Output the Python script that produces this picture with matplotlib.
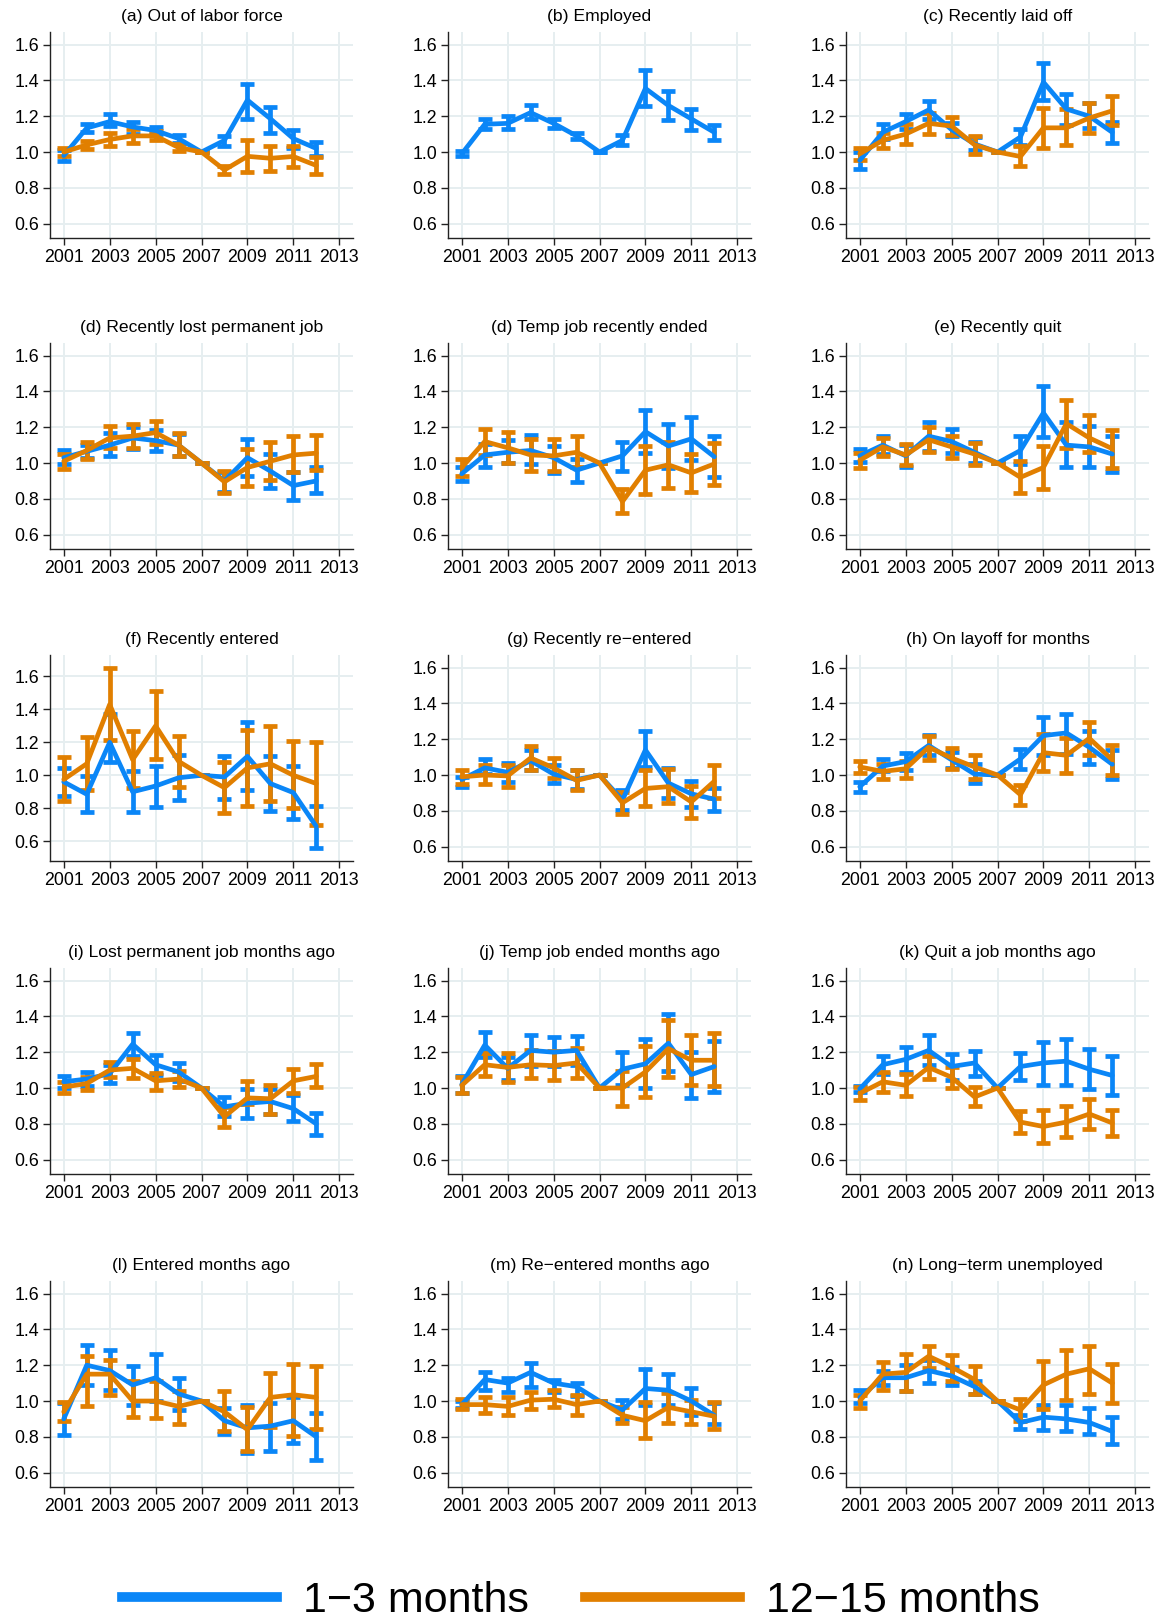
import numpy as np
import matplotlib
matplotlib.use("Agg")
import matplotlib.pyplot as plt
from matplotlib.lines import Line2D

plt.rcParams['font.family'] = ['Liberation Sans', 'DejaVu Sans']

years = list(range(2001, 2013))
BLUE = '#0a86f7'
ORANGE = '#e17f00'

# (a) Out of labor force
a_s = [0.98, 1.134, 1.17, 1.14, 1.12, 1.075, 1.0, 1.065, 1.29, 1.186, 1.075, 1.02]
a_s_lo = [0.95, 1.11, 1.143, 1.10, 1.10, 1.05, 1.0, 1.034, 1.186, 1.106, 1.022, 0.98]
a_s_hi = [1.01, 1.155, 1.21, 1.17, 1.14, 1.097, 1.0, 1.09, 1.378, 1.25, 1.125, 1.056]
a_l = [1.0, 1.04, 1.07, 1.09, 1.09, 1.025, 1.0, 0.90, 0.976, 0.965, 0.975, 0.925]
a_l_lo = [0.98, 1.015, 1.034, 1.052, 1.065, 1.006, 1.0, 0.879, 0.888, 0.894, 0.916, 0.879]
a_l_hi = [1.02, 1.06, 1.108, 1.127, 1.115, 1.047, 1.0, 0.92, 1.069, 1.034, 1.034, 0.972]

# (b) Employed
b_s = [0.99, 1.155, 1.16, 1.22, 1.16, 1.09, 1.0, 1.065, 1.355, 1.26, 1.185, 1.11]
b_s_lo = [0.975, 1.13, 1.127, 1.186, 1.134, 1.07, 1.0, 1.037, 1.255, 1.177, 1.125, 1.065]
b_s_hi = [1.005, 1.184, 1.20, 1.26, 1.184, 1.106, 1.0, 1.097, 1.46, 1.34, 1.242, 1.15]

# (c) Recently laid off
c_s = [0.953, 1.11, 1.17, 1.235, 1.125, 1.045, 1.0, 1.084, 1.39, 1.24, 1.20, 1.11]
c_s_lo = [0.907, 1.07, 1.13, 1.186, 1.088, 1.01, 1.0, 1.04, 1.289, 1.149, 1.134, 1.05]
c_s_hi = [1.0, 1.158, 1.214, 1.285, 1.162, 1.084, 1.0, 1.13, 1.497, 1.326, 1.274, 1.168]
c_l = [0.99, 1.065, 1.10, 1.16, 1.145, 1.04, 1.0, 0.975, 1.135, 1.135, 1.19, 1.23]
c_l_lo = [0.957, 1.024, 1.043, 1.102, 1.093, 0.987, 1.0, 0.922, 1.022, 1.037, 1.106, 1.149]
c_l_hi = [1.022, 1.106, 1.158, 1.218, 1.196, 1.088, 1.0, 1.035, 1.246, 1.238, 1.276, 1.311]

# (d) Recently lost permanent job
d_s = [1.03, 1.065, 1.10, 1.14, 1.125, 1.10, 1.0, 0.90, 1.03, 0.955, 0.874, 0.90]
d_s_lo = [0.994, 1.03, 1.04, 1.078, 1.065, 1.04, 1.0, 0.836, 0.93, 0.86, 0.795, 0.833]
d_s_hi = [1.072, 1.10, 1.165, 1.20, 1.184, 1.16, 1.0, 0.95, 1.134, 1.05, 0.95, 0.976]
d_l = [1.01, 1.07, 1.14, 1.15, 1.17, 1.10, 1.0, 0.895, 0.975, 1.01, 1.045, 1.055]
d_l_lo = [0.967, 1.022, 1.082, 1.082, 1.106, 1.037, 1.0, 0.833, 0.874, 0.905, 0.952, 0.963]
d_l_hi = [1.05, 1.12, 1.204, 1.22, 1.236, 1.165, 1.0, 0.957, 1.078, 1.12, 1.149, 1.156]

# (d) Temp job recently ended
t_s = [0.94, 1.045, 1.06, 1.07, 1.03, 0.96, 1.0, 1.04, 1.175, 1.095, 1.135, 1.035]
t_s_lo = [0.90, 0.98, 0.998, 0.994, 0.942, 0.896, 1.0, 0.957, 1.056, 0.97, 1.019, 0.92]
t_s_hi = [0.976, 1.106, 1.128, 1.158, 1.093, 1.022, 1.0, 1.12, 1.297, 1.22, 1.255, 1.152]
t_l = [0.975, 1.12, 1.085, 1.045, 1.04, 1.06, 1.0, 0.785, 0.96, 0.99, 0.945, 0.995]
t_l_lo = [0.93, 1.046, 1.0, 0.954, 0.954, 0.976, 1.0, 0.72, 0.827, 0.86, 0.836, 0.877]
t_l_hi = [1.022, 1.19, 1.171, 1.134, 1.134, 1.149, 1.0, 0.855, 1.097, 1.12, 1.05, 1.11]

# (e) Recently quit
e_s = [1.04, 1.10, 1.04, 1.15, 1.12, 1.06, 1.0, 1.07, 1.28, 1.10, 1.09, 1.05]
e_s_lo = [1.007, 1.05, 0.976, 1.069, 1.054, 1.0, 1.0, 0.994, 1.147, 0.976, 0.976, 0.948]
e_s_hi = [1.078, 1.149, 1.10, 1.227, 1.19, 1.119, 1.0, 1.152, 1.428, 1.227, 1.208, 1.152]
e_l = [1.015, 1.09, 1.045, 1.13, 1.09, 1.05, 1.0, 0.92, 0.975, 1.22, 1.14, 1.08]
e_l_lo = [0.972, 1.041, 0.989, 1.06, 1.028, 0.991, 1.0, 0.833, 0.855, 1.082, 1.063, 0.972]
e_l_hi = [1.056, 1.14, 1.106, 1.199, 1.149, 1.11, 1.0, 1.013, 1.097, 1.353, 1.268, 1.186]

# (f) Recently entered
f_s = [0.96, 0.885, 1.20, 0.90, 0.935, 0.985, 1.0, 0.99, 1.115, 0.95, 0.895, 0.69]
f_s_lo = [0.873, 0.776, 1.079, 0.778, 0.808, 0.853, 1.0, 0.857, 0.913, 0.782, 0.737, 0.56]
f_s_hi = [1.044, 0.994, 1.374, 1.024, 1.059, 1.125, 1.0, 1.119, 1.321, 1.119, 1.055, 0.816]
f_l = [0.975, 1.07, 1.43, 1.095, 1.30, 1.085, 1.0, 0.925, 1.045, 1.07, 1.0, 0.95]
f_l_lo = [0.842, 0.913, 1.212, 0.923, 1.099, 0.929, 1.0, 0.772, 0.812, 0.842, 0.802, 0.70]
f_l_hi = [1.109, 1.23, 1.65, 1.267, 1.509, 1.24, 1.0, 1.079, 1.277, 1.30, 1.206, 1.20]

# (g) Recently re-entered
g_s = [0.975, 1.04, 1.015, 1.08, 1.005, 0.975, 1.0, 0.86, 1.14, 0.955, 0.895, 0.865]
g_s_lo = [0.933, 1.007, 0.961, 1.026, 0.956, 0.924, 1.0, 0.804, 1.044, 0.872, 0.822, 0.798]
g_s_hi = [0.99, 1.09, 1.069, 1.141, 1.057, 1.026, 1.0, 0.915, 1.248, 1.039, 0.967, 0.928]
g_l = [0.99, 1.0, 0.995, 1.095, 1.04, 0.97, 1.0, 0.845, 0.925, 0.935, 0.85, 0.965]
g_l_lo = [0.952, 0.952, 0.933, 1.026, 0.983, 0.915, 1.0, 0.785, 0.828, 0.841, 0.761, 0.872]
g_l_hi = [1.026, 1.054, 1.057, 1.161, 1.094, 1.026, 1.0, 0.906, 1.03, 1.035, 0.939, 1.057]

# (h) On layoff for months
h_s = [0.935, 1.05, 1.075, 1.165, 1.085, 1.005, 1.0, 1.09, 1.22, 1.235, 1.155, 1.06]
h_s_lo = [0.906, 1.02, 1.026, 1.109, 1.041, 0.957, 1.0, 1.031, 1.113, 1.12, 1.063, 0.98]
h_s_hi = [0.961, 1.09, 1.124, 1.224, 1.131, 1.059, 1.0, 1.146, 1.322, 1.341, 1.243, 1.137]
h_l = [1.045, 1.02, 1.035, 1.155, 1.095, 1.045, 1.0, 0.89, 1.125, 1.11, 1.205, 1.085]
h_l_lo = [1.013, 0.98, 0.985, 1.085, 1.035, 0.98, 1.0, 0.835, 1.02, 1.013, 1.109, 1.002]
h_l_hi = [1.081, 1.059, 1.081, 1.22, 1.152, 1.109, 1.0, 0.943, 1.23, 1.206, 1.298, 1.169]

# (i) Lost permanent job months ago
i_s = [1.035, 1.05, 1.08, 1.245, 1.13, 1.09, 1.0, 0.895, 0.915, 0.925, 0.885, 0.80]
i_s_lo = [1.0, 1.01, 1.028, 1.18, 1.075, 1.04, 1.0, 0.845, 0.831, 0.855, 0.814, 0.738]
i_s_hi = [1.069, 1.091, 1.13, 1.307, 1.184, 1.138, 1.0, 0.948, 0.994, 0.994, 0.96, 0.86]
i_l = [1.005, 1.025, 1.10, 1.11, 1.04, 1.05, 1.0, 0.84, 0.945, 0.94, 1.04, 1.065]
i_l_lo = [0.972, 0.991, 1.063, 1.054, 0.989, 1.004, 1.0, 0.784, 0.911, 0.855, 0.97, 1.004]
i_l_hi = [1.035, 1.059, 1.143, 1.162, 1.082, 1.093, 1.0, 0.892, 1.041, 1.017, 1.106, 1.134]

# (j) Temp job ended months ago
j_s = [1.02, 1.24, 1.11, 1.21, 1.20, 1.21, 1.0, 1.105, 1.135, 1.25, 1.075, 1.12]
j_s_lo = [0.97, 1.171, 1.046, 1.121, 1.121, 1.128, 1.0, 1.019, 1.0, 1.097, 0.944, 0.976]
j_s_hi = [1.069, 1.314, 1.171, 1.297, 1.283, 1.292, 1.0, 1.199, 1.273, 1.413, 1.203, 1.264]
j_l = [1.015, 1.13, 1.115, 1.13, 1.125, 1.14, 1.0, 1.0, 1.09, 1.22, 1.155, 1.155]
j_l_lo = [0.97, 1.069, 1.035, 1.054, 1.046, 1.054, 1.0, 0.901, 0.948, 1.063, 1.019, 1.009]
j_l_hi = [1.063, 1.195, 1.195, 1.212, 1.204, 1.223, 1.0, 1.097, 1.232, 1.379, 1.297, 1.305]

# (k) Quit a job months ago
k_s = [0.995, 1.13, 1.16, 1.21, 1.12, 1.14, 1.0, 1.12, 1.14, 1.15, 1.105, 1.07]
k_s_lo = [0.975, 1.078, 1.091, 1.13, 1.046, 1.069, 1.0, 1.046, 1.019, 1.019, 0.994, 0.961]
k_s_hi = [1.013, 1.18, 1.227, 1.297, 1.19, 1.208, 1.0, 1.195, 1.255, 1.273, 1.217, 1.177]
k_l = [0.97, 1.035, 1.015, 1.115, 1.06, 0.95, 1.0, 0.81, 0.785, 0.81, 0.855, 0.805]
k_l_lo = [0.933, 0.98, 0.954, 1.05, 0.998, 0.898, 1.0, 0.749, 0.691, 0.725, 0.771, 0.734]
k_l_hi = [1.004, 1.087, 1.078, 1.18, 1.119, 1.004, 1.0, 0.87, 0.879, 0.898, 0.939, 0.879]

# (l) Entered months ago
l_s = [0.90, 1.20, 1.17, 1.09, 1.13, 1.04, 1.0, 0.89, 0.85, 0.86, 0.89, 0.80]
l_s_lo = [0.81, 1.09, 1.06, 0.977, 1.0, 0.949, 1.0, 0.817, 0.709, 0.72, 0.766, 0.669]
l_s_hi = [0.99, 1.314, 1.286, 1.194, 1.263, 1.126, 1.0, 0.96, 0.977, 0.99, 1.02, 0.931]
l_l = [0.94, 1.15, 1.15, 1.0, 1.0, 0.97, 1.0, 0.94, 0.84, 1.02, 1.035, 1.02]
l_l_lo = [0.886, 0.97, 1.034, 0.909, 0.903, 0.874, 1.0, 0.834, 0.72, 0.857, 0.806, 0.846]
l_l_hi = [0.994, 1.25, 1.229, 1.109, 1.114, 1.057, 1.0, 1.057, 0.966, 1.154, 1.206, 1.194]

# (m) Re-entered months ago
m_s = [0.98, 1.12, 1.10, 1.16, 1.10, 1.08, 1.0, 0.95, 1.07, 1.06, 1.0, 0.92]
m_s_lo = [0.96, 1.063, 1.05, 1.08, 1.05, 1.03, 1.0, 0.90, 0.977, 0.98, 0.92, 0.874]
m_s_hi = [1.0, 1.16, 1.131, 1.211, 1.12, 1.10, 1.0, 1.006, 1.177, 1.149, 1.074, 0.99]
m_l = [0.98, 0.98, 0.97, 1.005, 1.01, 0.98, 1.0, 0.92, 0.89, 0.965, 0.94, 0.915]
m_l_lo = [0.954, 0.931, 0.92, 0.954, 0.966, 0.92, 1.0, 0.88, 0.794, 0.88, 0.874, 0.846]
m_l_hi = [1.01, 1.023, 1.023, 1.05, 1.063, 1.034, 1.0, 0.966, 0.994, 1.046, 1.006, 0.994]

# (n) Long-term unemployed
n_s = [1.02, 1.13, 1.13, 1.17, 1.14, 1.08, 1.0, 0.88, 0.91, 0.90, 0.88, 0.83]
n_s_lo = [0.99, 1.09, 1.057, 1.103, 1.09, 1.04, 1.0, 0.846, 0.84, 0.834, 0.817, 0.76]
n_s_hi = [1.063, 1.17, 1.20, 1.23, 1.19, 1.114, 1.0, 0.92, 0.977, 0.977, 0.96, 0.909]
n_l = [1.0, 1.15, 1.16, 1.25, 1.19, 1.12, 1.0, 0.95, 1.09, 1.15, 1.18, 1.10]
n_l_lo = [0.96, 1.063, 1.057, 1.183, 1.114, 1.04, 1.0, 0.89, 0.954, 1.006, 1.04, 0.989]
n_l_hi = [1.034, 1.22, 1.263, 1.309, 1.257, 1.194, 1.0, 1.011, 1.223, 1.286, 1.309, 1.206]

panels = [
    ("(a) Out of labor force", (a_s, a_s_lo, a_s_hi), (a_l, a_l_lo, a_l_hi)),
    ("(b) Employed", (b_s, b_s_lo, b_s_hi), None),
    ("(c) Recently laid off", (c_s, c_s_lo, c_s_hi), (c_l, c_l_lo, c_l_hi)),
    ("(d) Recently lost permanent job", (d_s, d_s_lo, d_s_hi), (d_l, d_l_lo, d_l_hi)),
    ("(d) Temp job recently ended", (t_s, t_s_lo, t_s_hi), (t_l, t_l_lo, t_l_hi)),
    ("(e) Recently quit", (e_s, e_s_lo, e_s_hi), (e_l, e_l_lo, e_l_hi)),
    ("(f) Recently entered", (f_s, f_s_lo, f_s_hi), (f_l, f_l_lo, f_l_hi)),
    ("(g) Recently re\u2212entered", (g_s, g_s_lo, g_s_hi), (g_l, g_l_lo, g_l_hi)),
    ("(h) On layoff for months", (h_s, h_s_lo, h_s_hi), (h_l, h_l_lo, h_l_hi)),
    ("(i) Lost permanent job months ago", (i_s, i_s_lo, i_s_hi), (i_l, i_l_lo, i_l_hi)),
    ("(j) Temp job ended months ago", (j_s, j_s_lo, j_s_hi), (j_l, j_l_lo, j_l_hi)),
    ("(k) Quit a job months ago", (k_s, k_s_lo, k_s_hi), (k_l, k_l_lo, k_l_hi)),
    ("(l) Entered months ago", (l_s, l_s_lo, l_s_hi), (l_l, l_l_lo, l_l_hi)),
    ("(m) Re\u2212entered months ago", (m_s, m_s_lo, m_s_hi), (m_l, m_l_lo, m_l_hi)),
    ("(n) Long\u2212term unemployed", (n_s, n_s_lo, n_s_hi), (n_l, n_l_lo, n_l_hi)),
]

W, H = 1162, 1621
fig = plt.figure(figsize=(W / 100, H / 100), dpi=100)

col_left = [50, 448, 846]
row_top = [32, 343, 655, 968, 1281]
ax_w, ax_h = 303, 206


def draw_series(ax, ser, color):
    mean, lo, hi = (np.array(v) for v in ser)
    ax.errorbar(years, mean, yerr=[mean - lo, hi - mean], color=color, lw=3.4,
                elinewidth=3.4, capsize=5, capthick=3.4, solid_capstyle='round',
                solid_joinstyle='round', zorder=3)


for k, (title, short, long_) in enumerate(panels):
    r, c = divmod(k, 3)
    ax = fig.add_axes([col_left[c] / W, 1 - (row_top[r] + ax_h) / H, ax_w / W, ax_h / H])
    draw_series(ax, short, BLUE)
    if long_ is not None:
        draw_series(ax, long_, ORANGE)

    ax.set_xlim(2000.4, 2013.6)
    if title.startswith("(f)"):
        ax.set_ylim(0.48, 1.73)
    else:
        ax.set_ylim(0.52, 1.67)
    ax.set_xticks(range(2001, 2014, 2))
    ax.set_yticks([0.6, 0.8, 1.0, 1.2, 1.4, 1.6])
    ax.set_yticklabels(['0.6', '0.8', '1.0', '1.2', '1.4', '1.6'])
    ax.grid(True, color='#e6eef0', lw=1.4, zorder=0)
    ax.set_axisbelow(True)
    for side in ('top', 'right'):
        ax.spines[side].set_visible(False)
    for side in ('left', 'bottom'):
        ax.spines[side].set_color('#222222')
        ax.spines[side].set_linewidth(1.0)
    ax.tick_params(labelsize=12.8, length=5, width=1.0, color='#222222', pad=3)
    ax.set_title(title, fontsize=12.6, pad=8)

handles = [Line2D([], [], color=BLUE, lw=7), Line2D([], [], color=ORANGE, lw=7)]
fig.legend(handles, ['1\u22123 months', '12\u221215 months'], loc='center',
           bbox_to_anchor=(0.5, 1 - 1601 / H), ncol=2, frameon=False,
           fontsize=31, handlelength=3.6, handletextpad=0.6, columnspacing=1.3)

fig.savefig('out.png', dpi=100)
